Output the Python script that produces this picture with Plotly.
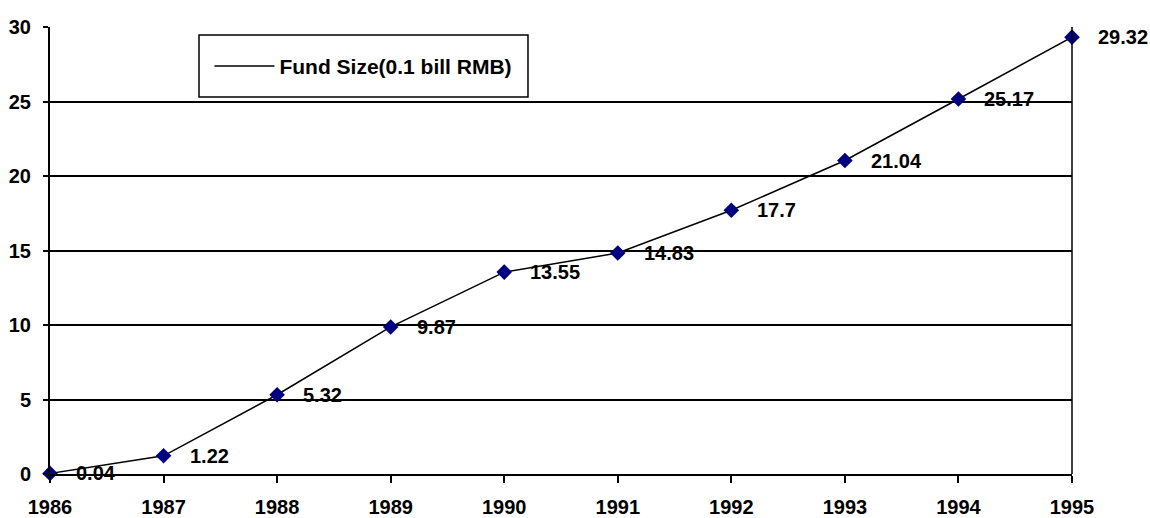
import plotly.graph_objects as go

years = [1986, 1987, 1988, 1989, 1990, 1991, 1992, 1993, 1994, 1995]
fund_size = [0.04, 1.22, 5.32, 9.87, 13.55, 14.83, 17.7, 21.04, 25.17, 29.32]
labels = ["0.04", "1.22", "5.32", "9.87", "13.55", "14.83", "17.7", "21.04", "25.17", "29.32"]
series_name = "Fund Size(0.1 bill RMB)"
y_ticks = [0, 5, 10, 15, 20, 25, 30]

FONT = "Liberation Sans, Arial, sans-serif"

fig = go.Figure()
fig.add_trace(go.Scatter(
    x=years, y=fund_size, mode="lines+markers",
    line=dict(color="black", width=1.5),
    marker=dict(symbol="diamond", size=12, color="#000080"),
    showlegend=False, cliponaxis=False, hoverinfo="x+y",
))
# legend entry (line only, as in the reference)
fig.add_trace(go.Scatter(
    x=[None], y=[None], mode="lines", name=series_name,
    line=dict(color="black", width=1.5),
))

for xv, yv, t in zip(years, fund_size, labels):
    fig.add_annotation(x=xv, y=yv, text="<b>%s</b>" % t, showarrow=False,
                       xanchor="left", yanchor="middle", xshift=24,
                       font=dict(family=FONT, size=20, color="black"))

fig.update_layout(
    width=1150, height=518,
    margin=dict(l=50, r=78, t=27, b=44),
    paper_bgcolor="white", plot_bgcolor="white",
    font=dict(family=FONT, size=20, color="black"),
    showlegend=True,
    legend=dict(
        x=0.156, y=0.912, xanchor="left", yanchor="middle",
        borderwidth=0, bgcolor="rgba(0,0,0,0)",
        font=dict(family=FONT, size=21, color="black", weight="bold"),
        itemwidth=60,
    ),
)
# legend frame
fig.add_shape(type="rect", xref="paper", yref="paper",
              x0=0.1458, x1=0.4677, y0=0.8434, y1=0.982,
              line=dict(color="black", width=1.5), fillcolor="rgba(0,0,0,0)",
              layer="above")
fig.update_xaxes(
    range=[1986, 1995], tickmode="array", tickvals=years,
    ticktext=["<b>%d</b>" % y for y in years],
    tickfont=dict(family=FONT, size=20, color="black"),
    showgrid=False, zeroline=False,
    showline=True, linecolor="black", linewidth=2,
    ticks="outside", ticklen=7, tickwidth=1.5, tickcolor="black",
    ticklabelstandoff=7, automargin=False,
)
fig.update_yaxes(
    range=[0, 30], tickmode="array", tickvals=y_ticks,
    ticktext=["<b>%d</b>" % v for v in y_ticks],
    tickfont=dict(family=FONT, size=20, color="black"),
    showgrid=True, gridcolor="black", gridwidth=1.5,
    zeroline=False,
    showline=True, linecolor="black", linewidth=2,
    ticks="outside", ticklen=5, tickwidth=1.5, tickcolor="black",
    ticklabelstandoff=8, automargin=False,
)
# right border of plot area
fig.add_shape(type="line", xref="paper", yref="paper", x0=1, x1=1, y0=0, y1=1,
              line=dict(color="black", width=1.5))

fig.write_html("out.html")
